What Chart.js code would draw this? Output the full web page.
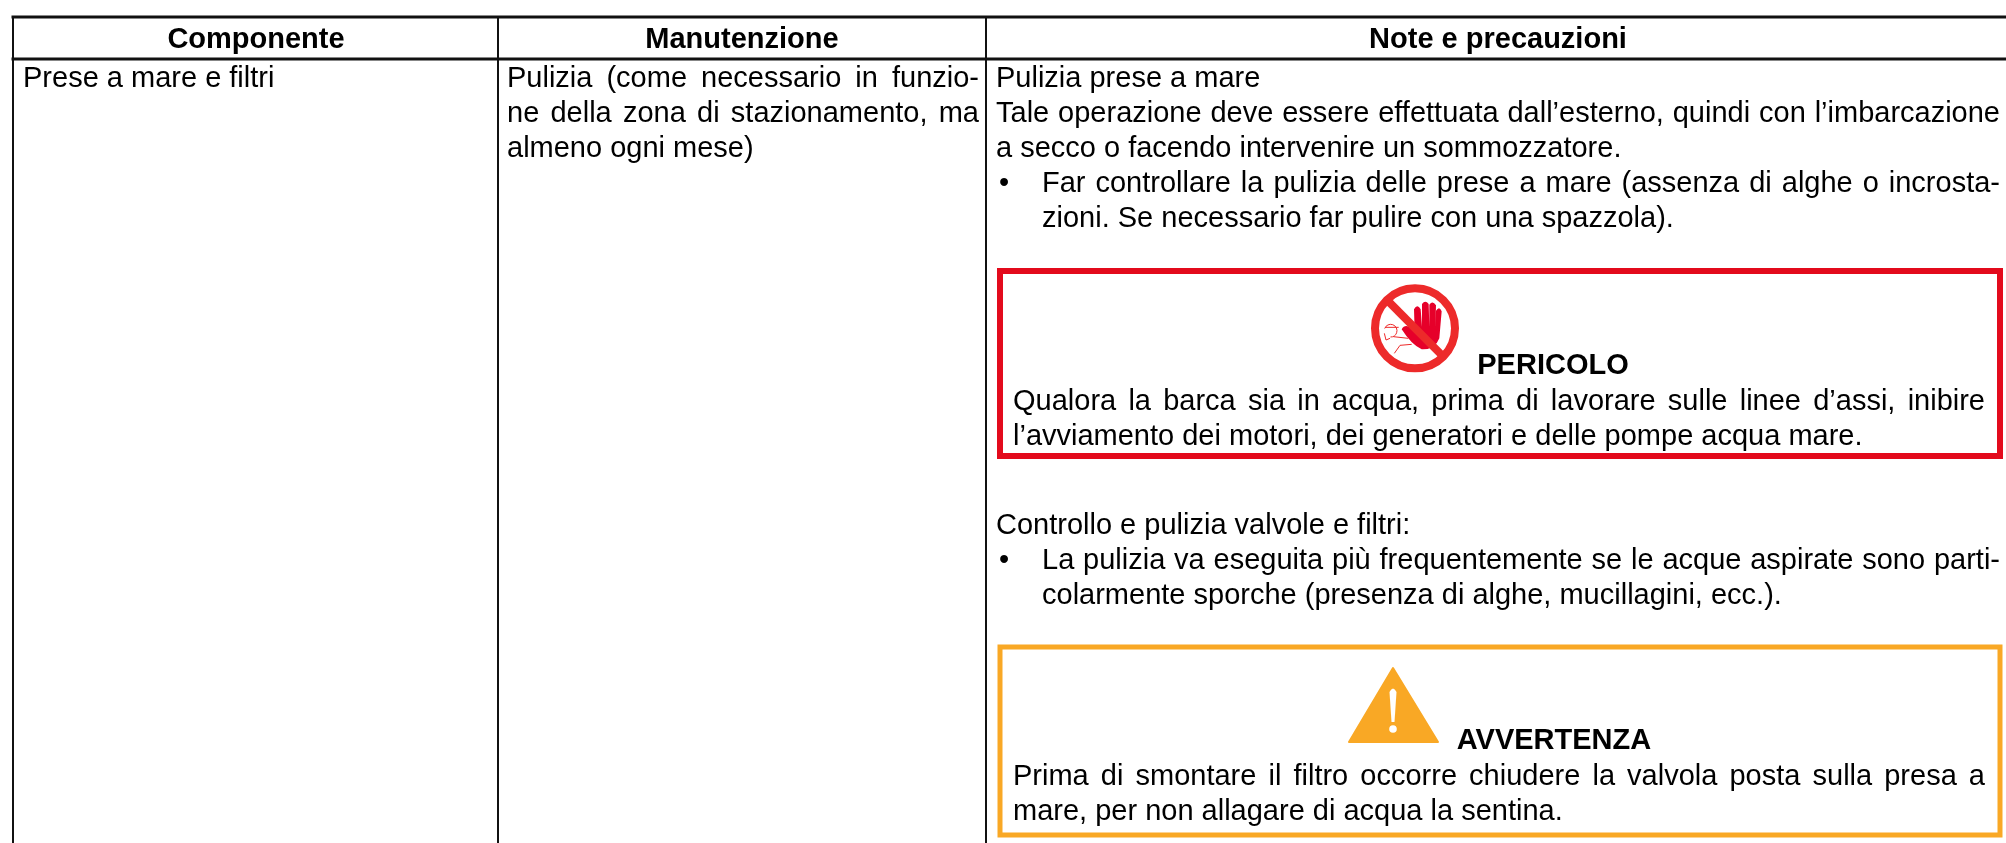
<!DOCTYPE html>
<html><head><meta charset="utf-8">
<style>html,body{margin:0;padding:0;background:#fff}#wrap{position:absolute;left:0;top:0;width:2006px;height:843px}</style>
<script src="https://cdn.jsdelivr.net/npm/chart.js@4"></script>
</head><body><div id="wrap"><canvas id="c" width="2006" height="843"></canvas></div>
<script>
// Table content
const headers = ["Componente", "Manutenzione", "Note e precauzioni"];
const col1Lines = ["Prese a mare e filtri"];
const col2Lines = ["Pulizia (come necessario in funzio-", "ne della zona di stazionamento, ma", "almeno ogni mese)"];
const noteLines = ["Pulizia prese a mare", "Tale operazione deve essere effettuata dall’esterno, quindi con l’imbarcazione", "a secco o facendo intervenire un sommozzatore."];
const bullet1Lines = ["Far controllare la pulizia delle prese a mare (assenza di alghe o incrosta-", "zioni. Se necessario far pulire con una spazzola)."];
const dangerTitle = "PERICOLO";
const dangerLines = ["Qualora la barca sia in acqua, prima di lavorare sulle linee d’assi, inibire", "l’avviamento dei motori, dei generatori e delle pompe acqua mare."];
const controlLines = ["Controllo e pulizia valvole e filtri:"];
const bullet2Lines = ["La pulizia va eseguita più frequentemente se le acque aspirate sono parti-", "colarmente sporche (presenza di alghe, mucillagini, ecc.)."];
const warnTitle = "AVVERTENZA";
const warnLines = ["Prima di smontare il filtro occorre chiudere la valvola posta sulla presa a", "mare, per non allagare di acqua la sentina."];

// Layout, separate from the content
const colEdges = [13, 498, 986, 2006];
const rowEdges = [17, 59, 843];
const dangerBox = [1000, 271, 2000, 456];
const warnBox = [1000, 647, 2000, 835];
const FS = 29, FAMILY = '"Liberation Sans", Arial, sans-serif';
const BLACK = '#111', RED = '#e30a1c', ORANGE = '#f9a825';

const seg = (x0,y0,x1,y1,color,w)=>({type:'line',data:[{x:x0,y:y0},{x:x1,y:y1}],borderColor:color,borderWidth:w,pointRadius:0,borderCapStyle:'square',tension:0,parsing:false});
const rect = (b,color,w)=>({type:'line',data:[{x:b[0],y:b[1]},{x:b[2],y:b[1]},{x:b[2],y:b[3]},{x:b[0],y:b[3]},{x:b[0],y:b[1]}],borderColor:color,borderWidth:w,pointRadius:0,borderCapStyle:'square',borderJoinStyle:'miter',tension:0,parsing:false});
const datasets = [
  seg(colEdges[0],rowEdges[0],colEdges[3],rowEdges[0],BLACK,3),
  seg(colEdges[0],rowEdges[1],colEdges[3],rowEdges[1],BLACK,3),
  ...colEdges.slice(0,3).map(x=>seg(x,rowEdges[0],x,rowEdges[2],BLACK,2)),
  rect(dangerBox,RED,6),
  rect(warnBox,ORANGE,5)
];

const tablePlugin = {id:'tablePlugin',afterDatasetsDraw(chart){
  const c = chart.ctx, X = v=>chart.scales.x.getPixelForValue(v), Y = v=>chart.scales.y.getPixelForValue(v);
  const put = (t,x,y,o={})=>{
    c.save();
    c.font = (o.bold?'bold ':'')+FS+'px '+FAMILY;
    c.fillStyle = '#000'; c.textBaseline='alphabetic'; c.textAlign = o.center?'center':'left';
    if(o.right!==undefined){
      const sp = (t.match(/ /g)||[]).length;
      c.wordSpacing='0px';
      const w = c.measureText(t).width;
      c.wordSpacing = ((X(o.right)-X(x)-w)/sp)+'px';
    }
    c.fillText(t,X(x),Y(y));
    c.restore();
  };
  [256,742,1498].forEach((x,i)=>put(headers[i],x,47.5,{bold:true,center:true}));
  put(col1Lines[0],23,87);
  put(col2Lines[0],507,87,{right:979}); put(col2Lines[1],507,122,{right:979}); put(col2Lines[2],507,157);
  put(noteLines[0],996,87); put(noteLines[1],996,122,{right:2000}); put(noteLines[2],996,157);
  put('•',999,192); put(bullet1Lines[0],1042,192,{right:2000}); put(bullet1Lines[1],1042,227);
  put(dangerTitle,1553,374,{bold:true,center:true});
  put(dangerLines[0],1013,410,{right:1985}); put(dangerLines[1],1013,445);
  put(controlLines[0],996,534);
  put('•',999,569); put(bullet2Lines[0],1042,569,{right:2000}); put(bullet2Lines[1],1042,604);
  put(warnTitle,1554,749,{bold:true,center:true});
  put(warnLines[0],1013,785,{right:1985}); put(warnLines[1],1013,820);

  // warning triangle
  c.save(); c.fillStyle=ORANGE; c.strokeStyle=ORANGE; c.lineJoin='round'; c.lineWidth=2;
  c.beginPath(); c.moveTo(1393,668); c.lineTo(1438,742); c.lineTo(1349,742); c.closePath(); c.fill(); c.stroke();
  c.fillStyle='#fff';
  c.beginPath(); c.moveTo(1389.5,692); c.quadraticCurveTo(1393,685,1396.5,692); c.lineTo(1394.5,722); c.lineTo(1391.5,722); c.closePath(); c.fill();
  c.beginPath(); c.arc(1393,729,3.8,0,7); c.fill();
  c.restore();

  // prohibition sign
  c.save(); c.translate(1340,270); c.scale(1/3,1/3);
  c.fillStyle='#e6002a';
  c.beginPath();
  c.moveTo(185,178); c.quadraticCurveTo(195,160,215,175); c.lineTo(224,185);
  c.lineTo(222,118); c.quadraticCurveTo(232,100,242,118); c.lineTo(246,170);
  c.lineTo(246,102); c.quadraticCurveTo(256,88,266,102); c.lineTo(268,170);
  c.lineTo(268,104); c.quadraticCurveTo(278,90,288,106); c.lineTo(286,175);
  c.lineTo(288,122); c.quadraticCurveTo(298,106,305,124); c.lineTo(298,205);
  c.quadraticCurveTo(285,240,245,238); c.quadraticCurveTo(215,225,185,178); c.closePath(); c.fill();
  c.strokeStyle='#ed2a2a'; c.lineWidth=24; c.beginPath(); c.arc(225,175,120,0,7); c.stroke();
  c.beginPath(); c.moveTo(143,92); c.lineTo(308,258); c.stroke();
  c.lineWidth=3;
  c.beginPath(); c.arc(152,182,19,-2.8,1.6); c.stroke();
  c.beginPath(); c.moveTo(135,172); c.lineTo(176,172); c.moveTo(133,190); c.lineTo(138,210); c.lineTo(150,205); c.moveTo(160,200); c.lineTo(205,205); c.moveTo(163,250); c.lineTo(180,226); c.lineTo(215,223); c.stroke();
  c.restore();
}};

new Chart(document.getElementById('c'),{
  type:'line',
  data:{datasets},
  options:{responsive:false,animation:false,events:[],
    layout:{padding:0},
    plugins:{legend:{display:false},tooltip:{enabled:false},title:{display:false}},
    scales:{
      x:{type:'linear',min:0,max:2006,display:false},
      y:{type:'linear',min:0,max:843,reverse:true,display:false}
    },
    clip:false
  },
  plugins:[tablePlugin]
});
</script></body></html>
